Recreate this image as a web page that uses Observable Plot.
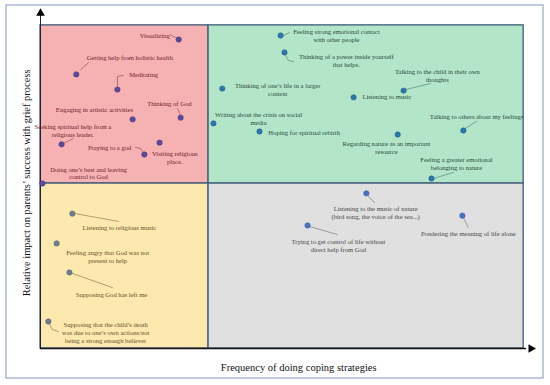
<!DOCTYPE html>
<html><head><meta charset="utf-8">
<script src="https://cdn.jsdelivr.net/npm/d3@7"></script>
<script src="https://cdn.jsdelivr.net/npm/@observablehq/plot@0.6"></script>
<style>body{margin:0;background:#fff}</style>
</head><body><div id="chart"></div>
<script>
// Coping strategies (position = frequency on x, relative impact on y, 0-100 units)
const strategies = [
  "Visualizing",
  "Getting help from holistic health",
  "Meditating",
  "Engaging in artistic activities",
  "Thinking of God",
  "Seeking spiritual help from a\nreligious leader.",
  "Visiting religious\nplace.",
  "Praying to a god",
  "Doing one\u2019s best and leaving\ncontrol to God",
  "Feeling strong emotional contact\nwith other people",
  "Thinking of a power inside yourself\nthat helps.",
  "Thinking of one\u2019s life in a larger\ncontext",
  "Listening to music",
  "Writing about the crisis on social\nmedia",
  "Hoping for spiritual rebirth",
  "Regarding nature as an important\nresource",
  "Talking to the child in their own\nthoughts",
  "Talking to others about my feelings",
  "Feeling a greater emotional\nbelonging to nature",
  "Listening to religious music",
  "Feeling angry that God was not\npresent to help",
  "Supposing God has left me",
  "Supposing that the child\u2019s death\nwas due to one\u2019s own actions/not\nbeing a strong enough believer",
  "Listening to the music of nature\n(bird song, the voice of the sea...)",
  "Trying to get control of life without\ndirect help from God",
  "Pondering the meaning of life alone"
];
const group = ["pink","pink","pink","pink","pink","pink","pink","pink","pink",
  "green","green","green","green","green","green","green","green","green","green",
  "yellow","yellow","yellow","yellow","gray","gray","gray"];
const frequency = [28.2, 7.3, 15.7, 18.8, 28.6, 4.3, 24.3, 21.2, 0.4,
  49.0, 49.8, 37.1, 63.9, 35.3, 44.7, 72.9, 74.1, 86.3, 79.8,
  6.5, 3.3, 5.9, 1.6, 66.5, 54.5, 86.1];
const impact = [91.4, 81.1, 76.6, 67.8, 68.3, 60.4, 60.9, 57.4, 48.8,
  92.6, 87.6, 76.9, 74.3, 66.6, 64.2, 63.3, 76.3, 64.5, 50.3,
  39.9, 31.1, 22.5, 8.0, 45.9, 36.4, 39.3];
const labelFrequency = [23.3, 18.2, 18.1, 11.0, 26.3, 6.6, 27.4, 14.1, 9.8,
  60.4, 62.4, 48.4, 65.7, 44.5, 46.5, 70.6, 81.0, 89.0, 84.9,
  16.1, 13.7, 14.5, 13.3, 68.4, 60.8, 87.3];
const labelImpact = [92.6, 86.1, 81.1, 70.7, 72.5, 64.6, 56.5, 59.5, 51.9,
  92.6, 85.1, 76.6, 74.3, 68.0, 63.9, 59.5, 80.8, 68.6, 54.7,
  35.8, 27.2, 16.0, 4.7, 40.2, 30.5, 34.0];
const startAligned = [2, 12, 14];

// Leader lines: strategy index, x, y
const leaderOf = [0,0, 1,1, 2,2,2, 4,4, 5,5, 7,7,7,
  9,9, 10,10,10, 16,16, 17,17, 18,18,
  19,19, 21,21, 22,22,22, 23,23, 24,24, 25,25];
const leaderFrequency = [26.5,27.8, 8.2,9.8, 15.7,15.7,16.9, 28.0,28.6, 4.7,6.7, 19.4,20.4,21.0,
  49.6,50.8, 50.0,50.6,51.6, 74.5,79.6, 86.7,89.0, 80.2,84.3,
  7.1,15.9, 6.5,14.7, 1.8,2.4,3.7, 66.9,68.2, 54.9,60.6, 86.3,87.3];
const leaderImpact = [92.8,91.8, 82.5,84.6, 77.5,80.5,80.8, 71.0,68.9, 60.7,62.1, 59.5,59.2,58.0,
  92.6,93.5, 86.7,85.2,84.9, 76.6,78.4, 65.1,67.2, 50.3,52.1,
  39.9,37.6, 22.2,18.0, 7.4,5.6,5.0, 45.0,43.2, 36.1,33.7, 38.8,35.8];

// Quadrants
const quadrantNames = ["pink","green","yellow","gray"];
const quadX1 = [0, 34.3, 0, 34.3];
const quadX2 = [34.3, 98.6, 34.3, 98.6];
const quadY1 = [48.8, 48.8, 0, 0];
const quadY2 = [95.6, 95.6, 48.8, 48.8];

const axisTitles = ["Frequency of doing coping strategies", "Relative impact on parents\u2019 success with grief process"];

const fillColor = {pink:"#f6b1b2", green:"#b3e5c9", yellow:"#fde8ae", gray:"#e0e0e0"};
const dotColor = {pink:"#5c4b9b", green:"#2c78ad", yellow:"#6e7e8e", gray:"#4a72c4"};
const dotEdge = {pink:"#41337a", green:"#1d5a86", yellow:"#55616d", gray:"#34559a"};
const textColor = {pink:"#72202f", green:"#2a4a3a", yellow:"#64522a", gray:"#474747"};
const leaderColor = {pink:"#6d3a4a", green:"#3d6a6a", yellow:"#6a6040", gray:"#5a5f70"};

const points = strategies.map((s, i) => ({
  name: s, group: group[i], x: frequency[i], y: impact[i],
  lx: labelFrequency[i], ly: labelImpact[i], start: startAligned.includes(i)
}));
const leaders = leaderOf.map((k, i) => ({id: k, group: group[k], x: leaderFrequency[i], y: leaderImpact[i]}));
const quads = quadrantNames.map((q, i) => ({q, x1: quadX1[i], x2: quadX2[i], y1: quadY1[i], y2: quadY2[i]}));

const chart = Plot.plot({
  width: 550, height: 385,
  marginLeft: 40, marginRight: 20, marginTop: 10, marginBottom: 37,
  x: {domain: [0, 100], axis: null},
  y: {domain: [0, 100], axis: null},
  color: {type: "identity"},
  style: {fontFamily: "'Liberation Serif', 'Times New Roman', serif", background: "white", overflow: "visible"},
  marks: [
    Plot.rect([{}], {x1: -6.94, x2: 102.65, y1: -8.88, y2: 101.5, fill: "none", stroke: "#a9b9d6", strokeWidth: 1.5}),
    Plot.rect(quads, {x1: "x1", x2: "x2", y1: "y1", y2: "y2", fill: d => fillColor[d.q], stroke: "#3c5a78", strokeWidth: 1.3}),
    Plot.ruleX([0], {y1: 0, y2: 98.6, stroke: "#222", strokeWidth: 1}),
    Plot.ruleY([0], {x1: 0, x2: 99.2, stroke: "#111", strokeWidth: 1.6}),
    Plot.dot([{x: 0, y: 99.2}], {x: "x", y: "y", symbol: "triangle", r: 3.2, fill: "#000"}),
    Plot.dot([{x: 100.1, y: 0}], {x: "x", y: "y", symbol: "triangle", r: 3.2, fill: "#000", rotate: 90}),
    Plot.line(leaders, {x: "x", y: "y", z: "id", stroke: d => leaderColor[d.group], strokeWidth: 0.6, strokeOpacity: 0.9}),
    Plot.dot(points, {x: "x", y: "y", r: 2.7, fill: d => dotColor[d.group], stroke: d => dotEdge[d.group], strokeWidth: 0.5}),
    Plot.text(points.filter(d => !d.start), {x: "lx", y: "ly", text: "name", textAnchor: "middle", fill: d => textColor[d.group], fontSize: 6.6, lineHeight: 1.18}),
    Plot.text(points.filter(d => d.start), {x: "lx", y: "ly", text: "name", textAnchor: "start", fill: d => textColor[d.group], fontSize: 6.6}),
    Plot.text([axisTitles[0]], {x: 52.7, y: -5.6, text: d => d, fontSize: 10.5, fill: "#111"}),
    Plot.text([axisTitles[1]], {x: -2.9, y: 49.0, text: d => d, fontSize: 10.5, fill: "#111", rotate: -90})
  ]
});
document.getElementById("chart").appendChild(chart);
</script>
</body></html>
